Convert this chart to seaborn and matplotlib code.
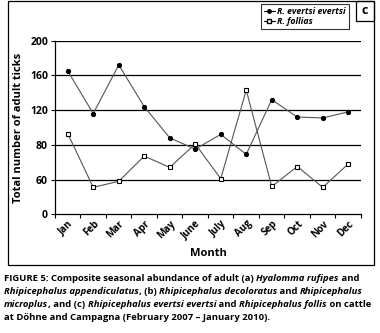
import numpy as np
import pandas as pd
import matplotlib
matplotlib.use('Agg')
import matplotlib.pyplot as plt
from matplotlib.patches import Rectangle
from matplotlib.lines import Line2D
import seaborn as sns

# data
months = ['Jan', 'Feb', 'Mar', 'Apr', 'May', 'June', 'July', 'Aug', 'Sep', 'Oct', 'Nov', 'Dec']
evertsi = [165, 116, 172, 124, 88, 75, 92, 69, 132, 112, 111, 118]
follis = [93, 31, 38, 67, 54, 81, 41, 143, 32, 55, 31, 58]
ytick_vals = [0, 40, 80, 120, 160, 200]
ytick_labels = ['0', '60', '80', '120', '160', '200']

df = pd.DataFrame({'idx': list(range(len(months))) * 2,
                   'count': evertsi + follis,
                   'species': ['R. evertsi evertsi'] * 12 + ['R. follias'] * 12})

sns.set_theme(style='white', rc={'text.color': 'black', 'axes.labelcolor': 'black',
                                 'xtick.color': 'black', 'ytick.color': 'black'})
plt.rcParams['font.family'] = ['Open Sans', 'DejaVu Sans']

fig = plt.figure(figsize=(3.8, 3.33), dpi=100)
ax = fig.add_axes([0.1447, 0.3565, 0.8053, 0.5215])

for y in ytick_vals[1:]:
    ax.axhline(y, color='black', lw=0.9, zorder=0)

sub = df[df.species == 'R. evertsi evertsi']
sns.lineplot(data=sub, x='idx', y='count', ax=ax, color='#555555', lw=0.8,
             marker='o', markersize=3, markerfacecolor='black', markeredgecolor='black')
sub = df[df.species == 'R. follias']
sns.lineplot(data=sub, x='idx', y='count', ax=ax, color='#555555', lw=0.8,
             marker='s', markersize=3.5, markerfacecolor='white', markeredgecolor='black',
             markeredgewidth=0.8)

ax.set_xlim(-0.5, 11.5)
ax.set_ylim(0, 200)
ax.set_yticks(ytick_vals)
ax.set_yticklabels(ytick_labels, fontsize=7.5, fontweight='bold')
ax.set_xticks(np.arange(-0.5, 12, 1))
ax.set_xticklabels([])
ax.set_xticks(range(12), minor=True)
ax.set_xticklabels(months, minor=True, rotation=45, ha='right', va='top',
                   rotation_mode='anchor', fontsize=7, fontweight='bold')
ax.tick_params(axis='x', which='major', direction='out', length=3, width=0.8, bottom=True)
ax.tick_params(axis='x', which='minor', length=0, pad=3)
ax.tick_params(axis='y', direction='out', length=3, width=0.8, left=True, pad=2)
for s in ['top', 'right']:
    ax.spines[s].set_visible(False)
for s in ['left', 'bottom']:
    ax.spines[s].set_color('black')
    ax.spines[s].set_linewidth(0.9)
ax.set_xlabel('Month', fontsize=8, fontweight='bold', labelpad=5)
ax.set_ylabel('Total number of adult ticks', fontsize=8, fontweight='bold', labelpad=4)

handles = [Line2D([], [], color='black', lw=0.8, marker='o', markersize=2.5),
           Line2D([], [], color='black', lw=0.8, marker='s', markersize=3,
                  markerfacecolor='white')]
leg = fig.legend(handles, ['R. evertsi evertsi', 'R. follias'],
                 loc='upper left', bbox_to_anchor=(261 / 380, 1 - 4 / 333),
                 prop={'size': 6.3, 'style': 'italic', 'weight': 'bold'},
                 frameon=True, fancybox=False, edgecolor='black', handlelength=1.2,
                 handletextpad=0.3, borderpad=0.35, labelspacing=0.1, borderaxespad=0)
leg.get_frame().set_linewidth(0.8)

# outer frame and panel letter
fig.add_artist(Rectangle((8 / 380, 1 - 265 / 333), 366 / 380, 265 / 333 - 0.002,
                         transform=fig.transFigure, fill=False, ec='black', lw=0.9))
fig.add_artist(Rectangle((356 / 380, 1 - 21 / 333), 18 / 380, 21 / 333 - 0.002,
                         transform=fig.transFigure, fill=False, ec='black', lw=0.9))
fig.text(365 / 380, 1 - 10.5 / 333, 'c', ha='center', va='center', fontsize=9, fontweight='bold')

# caption
caption = [
    [('FIGURE 5: Composite seasonal abundance of adult (a) ', 'normal'),
     ('Hyalomma rufipes', 'italic'), (' and', 'normal')],
    [('Rhipicephalus appendiculatus', 'italic'), (', (b) ', 'normal'),
     ('Rhipicephalus decoloratus', 'italic'), (' and ', 'normal'),
     ('Rhipicephalus', 'italic')],
    [('microplus', 'italic'), (', and (c) ', 'normal'),
     ('Rhipicephalus evertsi evertsi', 'italic'), (' and ', 'normal'),
     ('Rhipicephalus follis', 'italic'), (' on cattle', 'normal')],
    [('at Döhne and Campagna (February 2007 \u2013 January 2010).', 'normal')],
]
baselines = [281, 294, 307, 320]
for line, yb in zip(caption, baselines):
    prev = None
    for txt, st in line:
        if prev is None:
            prev = fig.text(4 / 380, 1 - yb / 333, txt, fontsize=6.8, fontweight='bold',
                            style=st, ha='left', va='baseline', color='black')
        else:
            prev = ax.annotate(txt, xy=(1, 0), xycoords=prev, ha='left', va='bottom',
                               fontsize=6.8, fontweight='bold', style=st, color='black',
                               annotation_clip=False)

fig.savefig('out.png', dpi=100)
